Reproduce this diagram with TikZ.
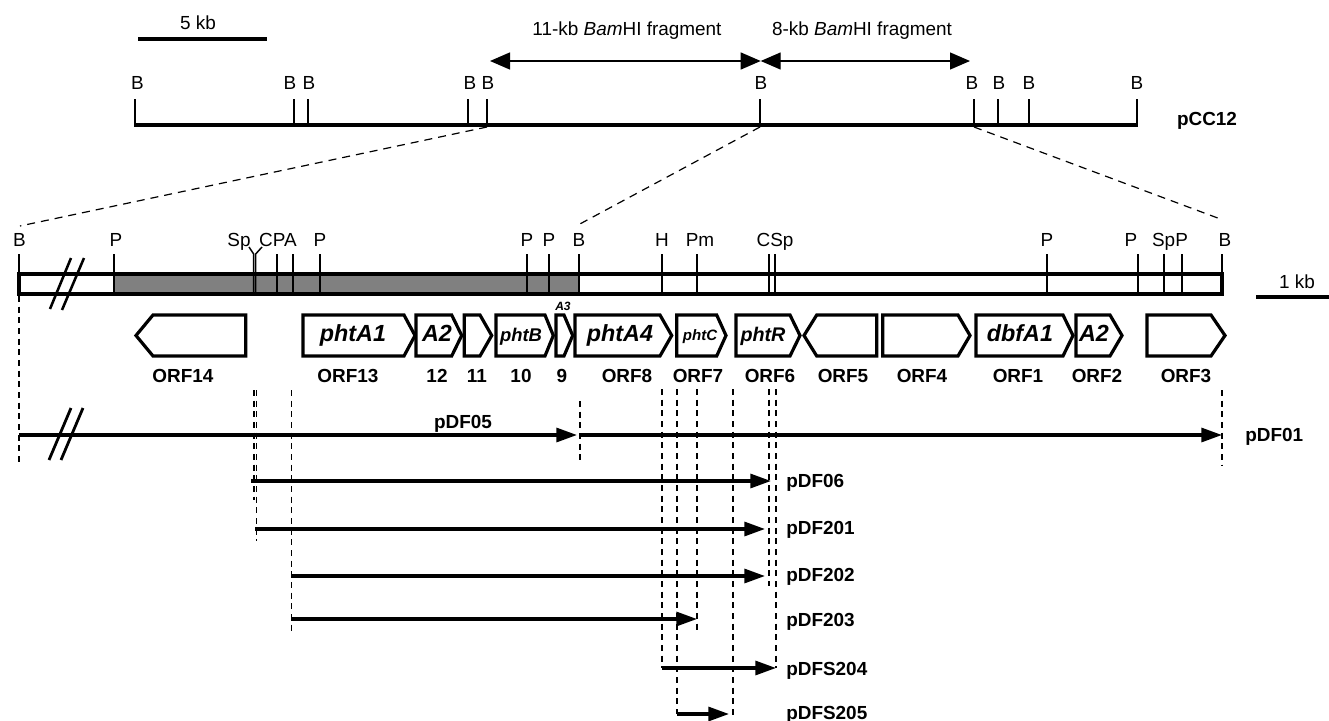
\documentclass[tikz,border=0pt]{standalone}
\usepackage{fontspec}
\setmainfont{Liberation Sans}
\usetikzlibrary{arrows.meta}
\newcommand\fsz[1]{\fontsize{#1}{#1}\selectfont}
\begin{document}
\begin{tikzpicture}[x=0.75pt,y=-0.75pt,
  lbl/.style={anchor=base,inner sep=0pt,font=\fsz{14.2}},
  blbl/.style={anchor=base,inner sep=0pt,font=\bfseries\fsz{14.2}},
  bwlbl/.style={anchor=base west,inner sep=0pt,font=\bfseries\fsz{14.2}},
  gname/.style={anchor=base,inner sep=0pt,font=\bfseries\itshape\fsz{17.5}},
  gene/.style={draw,line width=2.4pt,line join=miter,fill=white},
  rtick/.style={line width=1.1pt},
  vdash/.style={line width=0.85pt,dash pattern=on 4.5pt off 3.5pt},
  zoomline/.style={line width=0.9pt,dash pattern=on 6pt off 4.5pt},
  clone/.style={line width=2.4pt,-{Triangle[length=15.5pt,width=10.5pt]}},
  frag/.style={line width=1pt,{Triangle[length=15pt,width=12.75pt]}-{Triangle[length=15pt,width=12.75pt]}},
  brk/.style={line width=1.9pt},
  bar/.style={line width=3.2pt}]
\useasboundingbox (0,0) rectangle (1329,721);

% scale bars
\draw[bar] (138,39) -- (267,39);
\node[lbl] (kb5) at (198,29.3) {5 kb};
\draw[bar] (1256,297) -- (1329,297);
\node[lbl] (kb1) at (1297,288.3) {1 kb};

% BamHI fragments
\coordinate (fL) at (490,61);
\coordinate (fM) at (760.7,61);
\coordinate (fR) at (970,61);
\draw[frag] (fL) -- (fM);
\draw[frag] (fM) -- (fR);
\node[lbl] (f11) at (627,36) {11-kb \textit{Bam}HI fragment};
\node[lbl] (f8) at (862,36) {8-kb \textit{Bam}HI fragment};

% pCC12
\draw[line width=2.5pt] (134,125) -- (1137.5,125);
\foreach \x in {135,294,308,468,487,760,974,998,1029,1137}
  \draw[rtick] (\x,99) -- (\x,125);
\foreach \x [count=\i] in {137.5,290,309,470,488,761,972,999,1029,1137}
  \node[lbl] (tb\i) at (\x,89.3) {B};
\node[blbl] (pcc) at (1207,125.3) {pCC12};

% zoom connectors
\coordinate (z1a) at (487,127); \coordinate (z1b) at (20,226);
\coordinate (z2a) at (760,127); \coordinate (z2b) at (578,225);
\coordinate (z3a) at (974,127); \coordinate (z3b) at (1223,220);
\draw[zoomline] (z1a) -- (z1b);
\draw[zoomline] (z2a) -- (z2b);
\draw[zoomline] (z3a) -- (z3b);

% restriction map
\fill[black!50] (114,274) rectangle (579,294);
\foreach \x in {114,277,293,320,527,549,579,662,697,769,775,1047,1138,1164,1182}
  \draw[rtick] (\x,254) -- (\x,294);
\draw[rtick] (19,254) -- (19,274);
\draw[rtick] (1222,254) -- (1222,274);
\draw[rtick] (249,247) -- (253.7,254) -- (253.7,294);
\draw[rtick] (262,247) -- (255.7,254) -- (255.7,294);
\draw[line width=2.5pt] (19,274) rectangle (1222,294);
\draw[brk] (71,258) -- (50,309);
\draw[brk] (84,258) -- (62,310);
\foreach \x/\t [count=\i] in {19.5/B,116/P,239/Sp,278/CPA,320/P,527/P,549/P,579/B,662/H,700/Pm,775/CSp,1047/P,1131/P,1170/SpP,1225/B}
  \node[lbl] (m\i) at (\x,246) {\t};

% genes (top 315, bottom 356)
\def\gt{315}\def\gb{356}\def\gm{335.5}
\draw[gene] (136,\gm) -- (153,\gt) -- (245.7,\gt) -- (245.7,\gb) -- (153,\gb) -- cycle; % ORF14
\draw[gene] (303,\gt) -- (404,\gt) -- (415,\gm) -- (404,\gb) -- (303,\gb) -- cycle; % phtA1
\draw[gene] (416,\gt) -- (451.7,\gt) -- (461.7,\gm) -- (451.7,\gb) -- (416,\gb) -- cycle; % A2
\draw[gene] (464.3,\gt) -- (480,\gt) -- (491.7,\gm) -- (480,\gb) -- (464.3,\gb) -- cycle; % 11
\draw[gene] (496,\gt) -- (545,\gt) -- (553.3,\gm) -- (545,\gb) -- (496,\gb) -- cycle; % phtB
\draw[gene] (556,\gt) -- (564,\gt) -- (572.7,\gm) -- (564,\gb) -- (556,\gb) -- cycle; % A3
\draw[gene] (575,\gt) -- (660,\gt) -- (671.7,\gm) -- (660,\gb) -- (575,\gb) -- cycle; % phtA4
\draw[gene] (676.7,\gt) -- (716.7,\gt) -- (726,\gm) -- (716.7,\gb) -- (676.7,\gb) -- cycle; % phtC
\draw[gene] (736,\gt) -- (790,\gt) -- (800,\gm) -- (790,\gb) -- (736,\gb) -- cycle; % phtR
\draw[gene] (804,\gm) -- (816.7,\gt) -- (876.7,\gt) -- (876.7,\gb) -- (816.7,\gb) -- cycle; % ORF5
\draw[gene] (882.7,\gt) -- (958,\gt) -- (970,\gm) -- (958,\gb) -- (882.7,\gb) -- cycle; % ORF4
\draw[gene] (976,\gt) -- (1063,\gt) -- (1073,\gm) -- (1063,\gb) -- (976,\gb) -- cycle; % dbfA1
\draw[gene] (1076,\gt) -- (1110,\gt) -- (1122,\gm) -- (1110,\gb) -- (1076,\gb) -- cycle; % A2
\draw[gene] (1147,\gt) -- (1211,\gt) -- (1225,\gm) -- (1211,\gb) -- (1147,\gb) -- cycle; % ORF3

\node[gname] (gA1) at (353,341.7) {phtA1};
\node[gname] (gA2) at (437,341.7) {A2};
\node[gname,font=\bfseries\itshape\fsz{13.8}] (gB) at (521,341) {phtB};
\node[gname,font=\bfseries\itshape\fsz{9}] (gA3) at (563,310) {A3};
\node[gname] (gA4) at (620,341.7) {phtA4};
\node[gname,font=\bfseries\itshape\fsz{11.3}] (gC) at (700,340) {phtC};
\node[gname,font=\bfseries\itshape\fsz{14.8}] (gR) at (763,341.5) {phtR};
\node[gname] (gD) at (1020,341.7) {dbfA1};
\node[gname] (gA2b) at (1094,341.7) {A2};

\foreach \x/\t [count=\i] in {183/ORF14,348/ORF13,437/12,477/11,521/10,562/9,627/ORF8,698/ORF7,770/ORF6,843/ORF5,922/ORF4,1018/ORF1,1097/ORF2,1186/ORF3}
  \node[blbl] (o\i) at (\x,382.3) {\t};

% vertical dashed guides
\draw[vdash] (19,296) -- (19,463);
\draw[vdash] (1222,390) -- (1222,465);
\draw[vdash] (254,390) -- (254,500);
\draw[vdash] (256.7,390) -- (256.7,541);
\draw[vdash] (291.7,390) -- (291.7,632);
\draw[vdash] (580,401) -- (580,462);
\draw[vdash] (662,389) -- (662,668);
\draw[vdash] (677,389) -- (677,714);
\draw[vdash] (697,389) -- (697,633);
\draw[vdash] (733,389) -- (733,716);
\draw[vdash] (769,389) -- (769,586);
\draw[vdash] (776,389) -- (776,668);

% clones
\coordinate (c05a) at (19,435);   \coordinate (c05b) at (577,435);
\coordinate (c01a) at (580,435);  \coordinate (c01b) at (1222,435);
\coordinate (c06a) at (251,481);  \coordinate (c06b) at (771,481);
\coordinate (c201a) at (255,529); \coordinate (c201b) at (765,529);
\coordinate (c202a) at (291,576); \coordinate (c202b) at (765,576);
\coordinate (c203a) at (291,619); \coordinate (c203b) at (697,619);
\coordinate (c204a) at (662,668); \coordinate (c204b) at (776,668);
\coordinate (c205a) at (677,714); \coordinate (c205b) at (729,714);
\draw[clone] (c05a) -- (c05b);
\draw[clone] (c01a) -- (c01b);
\draw[clone] (c06a) -- (c06b);
\draw[clone] (c201a) -- (c201b);
\draw[clone] (c202a) -- (c202b);
\draw[clone] (c203a) -- (c203b);
\draw[clone] (c204a) -- (c204b);
\draw[clone] (c205a) -- (c205b);
\draw[brk,line width=2.1pt] (71,408) -- (49,460);
\draw[brk,line width=2.1pt] (83,408) -- (61,460);

\node[blbl] (l05) at (463,428.3) {pDF05};
\node[bwlbl] (l01) at (1245,441) {pDF01};
\node[bwlbl] (l06) at (786,487) {pDF06};
\node[bwlbl] (l201) at (786,534.3) {pDF201};
\node[bwlbl] (l202) at (786,581.7) {pDF202};
\node[bwlbl] (l203) at (786,626.7) {pDF203};
\node[bwlbl] (l204) at (786,675) {pDFS204};
\node[bwlbl] (l205) at (786,719.5) {pDFS205};
\end{tikzpicture}
\end{document}
